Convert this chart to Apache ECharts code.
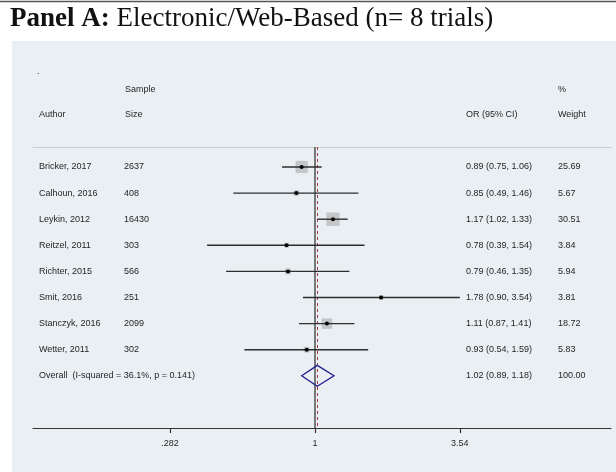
<!DOCTYPE html>
<html>
<head>
<meta charset="utf-8">
<script src="https://cdn.jsdelivr.net/npm/echarts@6/dist/echarts.min.js"></script>
<style>html,body{margin:0;padding:0;background:#fff;}#c{width:616px;height:472px;}</style>
</head>
<body>
<div id="c"></div>
<script>
const authors = ['Bricker, 2017', 'Calhoun, 2016', 'Leykin, 2012', 'Reitzel, 2011', 'Richter, 2015', 'Smit, 2016', 'Stanczyk, 2016', 'Wetter, 2011'];
const sampleSizes = ['2637', '408', '16430', '303', '566', '251', '2099', '302'];
const orValues = [0.89, 0.85, 1.17, 0.78, 0.79, 1.78, 1.11, 0.93];
const ciLow = [0.75, 0.49, 1.02, 0.39, 0.46, 0.90, 0.87, 0.54];
const ciHigh = [1.06, 1.46, 1.33, 1.54, 1.35, 3.54, 1.41, 1.59];
const weights = [25.69, 5.67, 30.51, 3.84, 5.94, 3.81, 18.72, 5.83];
const overallLabel = 'Overall  (I-squared = 36.1%, p = 0.141)';
const overallOR = [1.02];
const overallLow = [0.89];
const overallHigh = [1.18];
const overallWeight = [100.00];
const tickValues = [0.282, 1, 3.54];
const tickLabels = ['.282', '1', '3.54'];

const chart = echarts.init(document.getElementById('c'));
const ln = Math.log;
const studyData = orValues.map((v, i) => [ln(ciLow[i]), ln(ciHigh[i]), ln(v), i + 1, weights[i]]);
const overallData = [[ln(overallLow[0]), ln(overallHigh[0]), ln(overallOR[0]), authors.length + 1]];
const tickLn = tickValues.map(ln);

const XMIN = -2.461, XMAX = 2.583;
const txtFont = 'Liberation Sans, Arial, sans-serif';
const txtColor = '#262626';

chart.setOption({
  backgroundColor: '#ffffff',
  animation: false,
  grid: { left: 33, right: 5, top: 147, bottom: 44 },
  xAxis: [{
    type: 'value', min: XMIN, max: XMAX, position: 'bottom',
    splitLine: { show: false },
    axisLine: { lineStyle: { color: '#333', width: 1.2 } },
    axisTick: { customValues: tickLn, length: 5, lineStyle: { color: '#333', width: 1.2 } },
    axisLabel: {
      customValues: tickLn, margin: 11, fontSize: 9, color: txtColor, fontFamily: txtFont,
      formatter: function (v) {
        let best = 0, d = Infinity;
        tickLn.forEach((t, i) => { if (Math.abs(t - v) < d) { d = Math.abs(t - v); best = i; } });
        return tickLabels[best];
      }
    }
  }, {
    type: 'value', min: XMIN, max: XMAX, position: 'top',
    splitLine: { show: false },
    axisLine: { lineStyle: { color: '#c9cdd0', width: 1 } },
    axisTick: { show: false }, axisLabel: { show: false }
  }],
  yAxis: {
    type: 'value', inverse: true, min: 0.234, max: 11,
    show: false
  },
  series: [{
    type: 'custom',
    data: studyData,
    encode: { x: [0, 1, 2], y: 3 },
    z: 5,
    renderItem: function (params, api) {
      const y = api.value(3);
      const lo = api.coord([api.value(0), y]);
      const hi = api.coord([api.value(1), y]);
      const pt = api.coord([api.value(2), y]);
      const s = 2.41 * Math.sqrt(api.value(4));
      return {
        type: 'group', children: [
          { type: 'rect', shape: { x: pt[0] - s / 2, y: pt[1] - s / 2, width: s, height: s }, style: { fill: '#c3c5c7' } },
          { type: 'line', shape: { x1: lo[0], y1: lo[1], x2: hi[0], y2: hi[1] }, style: { stroke: '#2e2e2e', lineWidth: 1.4 } },
          { type: 'circle', shape: { cx: pt[0], cy: pt[1], r: 2 }, style: { fill: '#000' } }
        ]
      };
    }
  }, {
    type: 'custom',
    data: overallData,
    encode: { x: [0, 1, 2], y: 3 },
    z: 6,
    renderItem: function (params, api) {
      const y = api.value(3);
      const l = api.coord([api.value(0), y]);
      const r = api.coord([api.value(1), y]);
      const t = api.coord([api.value(2), y - 0.4]);
      const b = api.coord([api.value(2), y + 0.4]);
      return {
        type: 'polygon',
        shape: { points: [l, t, r, b] },
        style: { fill: 'none', stroke: '#1f1f8f', lineWidth: 1.3 }
      };
    },
    markLine: {
      silent: true, symbol: 'none', label: { show: false },
      data: [
        { xAxis: 0, lineStyle: { color: '#5a5a5a', width: 1.6, type: 'solid' } },
        { xAxis: ln(overallOR[0]), lineStyle: { color: '#b03a3a', width: 1, type: [3, 3] } }
      ]
    }
  }]
});

const g = [];
g.push({ type: 'rect', z: -10, shape: { x: 12, y: 41, width: 604, height: 431 }, style: { fill: '#e9eff2' } });
g.push({ type: 'line', z: -5, shape: { x1: 0, y1: 1.5, x2: 616, y2: 1.5 }, style: { stroke: '#555', lineWidth: 1.5 } });
g.push({
  type: 'text', x: 10, y: 19,
  style: {
    text: '{b|Panel A:} Electronic/Web-Based (n= 8 trials)',
    font: '27px "Liberation Serif", "Times New Roman", serif',
    fill: '#111', verticalAlign: 'middle',
    rich: { b: { fontWeight: 'bold', fontSize: 27, fontFamily: 'Liberation Serif', fill: '#111' } }
  }
});
function txt(s, x, y) {
  g.push({ type: 'text', x: x, y: y, style: { text: s, fontSize: 9, fontFamily: txtFont, fill: txtColor, verticalAlign: 'middle', align: 'left' } });
}
txt('.', 37, 72);
txt('Sample', 125, 90);
txt('%', 558, 90);
txt('Author', 39, 115);
txt('Size', 125, 115);
txt('OR (95% CI)', 466, 115);
txt('Weight', 558, 115);
authors.forEach((a, i) => {
  const y = chart.convertToPixel({ yAxisIndex: 0 }, i + 1);
  txt(a, 39, y);
  txt(sampleSizes[i], 124, y);
  txt(orValues[i].toFixed(2) + ' (' + ciLow[i].toFixed(2) + ', ' + ciHigh[i].toFixed(2) + ')', 466, y);
  txt(weights[i].toFixed(2), 558, y);
});
const yo = chart.convertToPixel({ yAxisIndex: 0 }, authors.length + 1);
txt(overallLabel, 39, yo);
txt(overallOR[0].toFixed(2) + ' (' + overallLow[0].toFixed(2) + ', ' + overallHigh[0].toFixed(2) + ')', 466, yo);
txt(overallWeight[0].toFixed(2), 558, yo);
chart.setOption({ graphic: g });
</script>
</body>
</html>
